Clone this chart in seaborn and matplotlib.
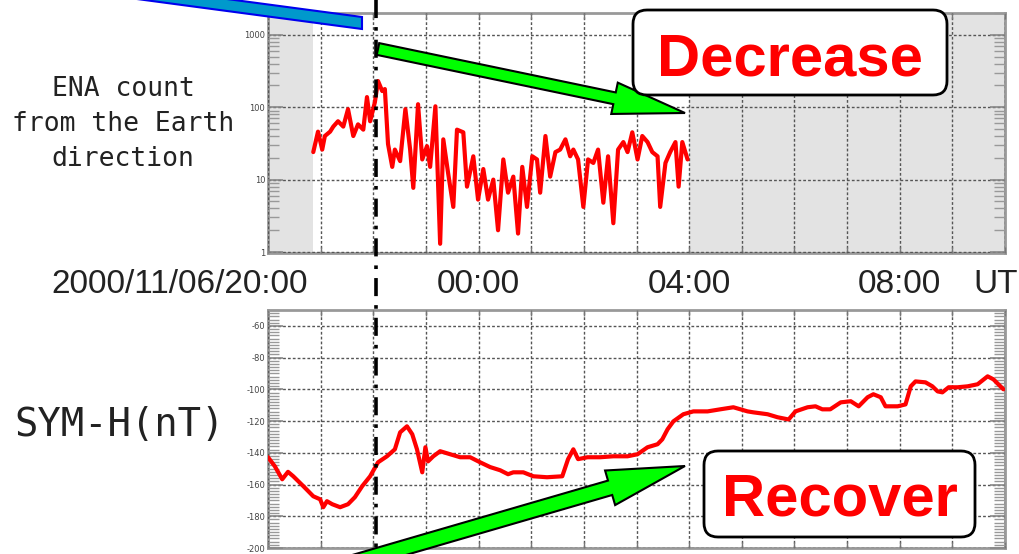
import numpy as np
import pandas as pd
import seaborn as sns
import matplotlib.pyplot as plt
import matplotlib.dates as mdates
from matplotlib.ticker import FixedLocator, MultipleLocator, LogLocator, NullFormatter
from matplotlib.patches import FancyArrow, FancyBboxPatch, Polygon

# ENA count from the Earth direction (hours after 2000/11/06 20:00 UT)
ena_hours = [0.86, 0.95, 1.03, 1.08, 1.18, 1.24, 1.33, 1.43, 1.52, 1.62,
             1.71, 1.81, 1.88, 1.94, 2.03, 2.09, 2.17, 2.22, 2.28, 2.36,
             2.41, 2.51, 2.61, 2.70, 2.76, 2.85, 2.93, 3.02, 3.08, 3.18,
             3.27, 3.33, 3.42, 3.52, 3.59, 3.71, 3.78, 3.90, 3.99, 4.09,
             4.18, 4.28, 4.37, 4.47, 4.56, 4.66, 4.75, 4.83, 4.92, 5.02,
             5.11, 5.17, 5.27, 5.36, 5.46, 5.55, 5.65, 5.74, 5.80, 5.89,
             5.99, 6.08, 6.18, 6.27, 6.37, 6.46, 6.56, 6.65, 6.75, 6.83,
             6.92, 7.02, 7.11, 7.21, 7.30, 7.40, 7.45, 7.55, 7.64, 7.74,
             7.80, 7.87, 7.97]
ena_counts = [24, 46, 26, 40, 46, 54, 64, 54, 94, 40,
              58, 49, 138, 64, 117, 230, 167, 178, 31, 15,
              26, 18, 94, 26, 7.7, 110, 19, 29, 15, 103,
              1.3, 36, 12.5, 4.2, 49, 45, 8, 21, 5.3, 14,
              5.3, 10, 2.0, 19, 6.6, 11, 1.8, 15, 4.2, 21,
              19, 6.6, 40, 11, 24, 26, 36, 21, 26, 19,
              4.2, 19, 17, 26, 4.8, 21, 2.5, 26, 33, 24,
              45, 19, 40, 33, 24, 21, 4.2, 17, 24, 33,
              8, 33, 19]

# SYM-H index (nT)
symh_hours = [0.00, 0.13, 0.27, 0.38, 0.48, 0.67, 0.86, 0.99, 1.05, 1.12,
              1.22, 1.37, 1.52, 1.65, 1.79, 1.94, 2.09, 2.26, 2.41, 2.51,
              2.64, 2.74, 2.83, 2.93, 2.99, 3.04, 3.14, 3.27, 3.46, 3.65,
              3.84, 4.03, 4.22, 4.41, 4.56, 4.66, 4.85, 5.04, 5.30, 5.59,
              5.70, 5.80, 5.89, 6.07, 6.31, 6.56, 6.83, 7.02, 7.21, 7.40,
              7.49, 7.59, 7.70, 7.89, 8.08, 8.35, 8.59, 8.84, 9.11, 9.22,
              9.49, 9.68, 9.89, 10.02, 10.25, 10.40, 10.53, 10.68, 10.88, 11.07,
              11.22, 11.39, 11.50, 11.64, 11.73, 11.96, 12.11, 12.21, 12.30, 12.49,
              12.62, 12.72, 12.81, 12.93, 13.10, 13.29, 13.48, 13.67, 13.78, 13.97]
symh_nt = [-142.8, -148.5, -156.7, -152.0, -154.8, -161.0, -167.4, -169.3, -174.3, -170.5,
           -172.4, -174.3, -172.4, -168.0, -161.0, -154.8, -146.0, -142.2, -137.8, -127.1,
           -123.3, -128.3, -137.8, -152.3, -136.5, -145.4, -142.2, -139.0, -140.9, -142.8,
           -142.8, -146.0, -149.0, -151.0, -153.5, -152.3, -152.3, -154.8, -155.4, -154.8,
           -144.0, -137.8, -144.0, -142.8, -142.8, -142.2, -142.2, -140.9, -136.5, -134.6,
           -131.5, -125.2, -120.2, -115.7, -113.9, -113.9, -112.6, -111.3, -113.9, -114.5,
           -115.7, -117.6, -119.0, -113.9, -111.3, -110.7, -112.6, -112.6, -108.2, -107.5,
           -110.7, -105.0, -103.1, -105.0, -110.7, -110.7, -109.5, -98.1, -95.0, -95.6,
           -98.1, -101.3, -101.9, -98.7, -98.7, -98.1, -96.8, -91.8, -93.7, -100.0]

event_hour = 2.05          # dash-dot marker (~22:03 UT)
no_data = [(0.0, 0.86), (8.0, 14.0)]   # grey (no ENA data)
time_labels = ["2000/11/06/20:00", "00:00", "04:00", "08:00", "UT"]
label_hours = [0, 4, 8, 12, 14]
ena_ticks = [1, 10, 100, 1000]
symh_ticks = [-200, -180, -160, -140, -120, -100, -80, -60]

start = pd.Timestamp("2000-11-06 20:00")
def to_time(h):
    return start + pd.to_timedelta(np.asarray(h, dtype=float), unit="h")

ena = pd.DataFrame({"time": to_time(ena_hours), "count": ena_counts})
symh = pd.DataFrame({"time": to_time(symh_hours), "symh": symh_nt})

sns.set_style("ticks")
plt.rcParams["font.family"] = ["DejaVu Sans"]

W, H = 1019, 554
fig = plt.figure(figsize=(W / 100, H / 100), dpi=100)
ax1 = fig.add_axes([268 / W, 1 - 253 / H, 737 / W, 240 / H])
ax2 = fig.add_axes([268 / W, 1 - 548 / H, 737 / W, 238 / H])

x0, x1 = to_time(0.0), to_time(14.0)
grid_kw = dict(color="#555555", lw=1.0, ls=(0, (2, 1.5)))

for a0, b0 in no_data:
    ax1.axvspan(to_time(a0), to_time(b0), color="#e3e3e3", lw=0, zorder=0)

sns.lineplot(data=ena, x="time", y="count", ax=ax1, color="#ff0000", lw=3,
             estimator=None, sort=False, zorder=3)
ax1.set_yscale("log")
ax1.set_ylim(0.97, 2000)
ax1.yaxis.set_major_locator(FixedLocator(ena_ticks))
ax1.yaxis.set_minor_locator(LogLocator(base=10, subs=np.arange(2, 10)))
ax1.yaxis.set_minor_formatter(NullFormatter())
ax1.set_yticklabels([str(t) for t in ena_ticks])

sns.lineplot(data=symh, x="time", y="symh", ax=ax2, color="#ff0000", lw=3,
             estimator=None, sort=False, zorder=3)
ax2.set_ylim(-200, -50)
ax2.yaxis.set_major_locator(FixedLocator(symh_ticks))
ax2.yaxis.set_minor_locator(MultipleLocator(2))
ax2.set_yticklabels([str(t) for t in symh_ticks])

for ax in (ax1, ax2):
    ax.set_xlim(x0, x1)
    ax.xaxis.set_major_locator(mdates.HourLocator())
    ax.set_xticklabels([])
    ax.set_xlabel("")
    ax.set_ylabel("")
    ax.grid(True, which="major", **grid_kw)
    ax.set_axisbelow(False)
    for sp in ax.spines.values():
        sp.set_visible(True)
        sp.set_color("#999999")
        sp.set_linewidth(2)
    ax.tick_params(axis="x", which="major", direction="in", length=4, width=1,
                   color="#777777", top=True, bottom=True)
    ax.tick_params(axis="y", which="major", direction="in", length=11, width=1.2,
                   color="#888888", left=True, right=True, labelsize=6,
                   labelcolor="#444444", pad=2)
    ax.tick_params(axis="y", which="minor", direction="in", length=8, width=1,
                   color="#999999", left=True, right=True)

# time labels between the panels
time_font = dict(fontsize=24, color="#222222", va="baseline",
                 family=["Liberation Sans", "DejaVu Sans"])
for lab, h in zip(time_labels, label_hours):
    xt = mdates.date2num(to_time(h))
    if lab.startswith("2000"):
        dx, ha = 29, "right"
    elif lab == "UT":
        dx, ha = 9, "right"
    else:
        dx, ha = 0, "center"
    ax1.annotate(lab, xy=(xt, -0.167), xycoords=ax1.get_xaxis_transform(),
                 xytext=(dx, 0), textcoords="offset points", ha=ha,
                 annotation_clip=False, **time_font)

# left labels
fig.text(123 / W, 1 - 124 / H, "ENA count\nfrom the Earth\ndirection", ha="center",
         va="center", fontsize=19, color="#222222", linespacing=1.45,
         family=["DejaVu Sans Mono"])
fig.text(120 / W, 1 - 425 / H, "SYM-H(nT)", ha="center", va="center", fontsize=28,
         color="#222222", family=["DejaVu Sans Mono"])

# overlay in pixel coordinates for the annotations
ov = fig.add_axes([0, 0, 1, 1], zorder=10)
ov.set_xlim(0, W)
ov.set_ylim(H, 0)
ov.axis("off")
ov.patch.set_alpha(0)

ex = ax1.transData.transform((mdates.date2num(to_time(event_hour)), 1.0))[0]
ov.plot([ex, ex], [0, H], color="black", lw=2.6, ls=(0, (5, 2.5, 1, 2.5)))

# blue bar coming from the top left
ov.add_patch(Polygon([(122, -15), (362, 17), (362, 29), (122, -3)], closed=True,
                     facecolor="#0099cc", edgecolor="#0000ee", lw=1.5))

# green arrows
ov.add_patch(FancyArrow(378, 49, 685 - 378, 113 - 49, width=12, head_width=32,
                        head_length=72, length_includes_head=True,
                        facecolor="#00ff00", edgecolor="black", lw=1.5))
ov.add_patch(FancyArrow(355, 562, 685 - 355, 466 - 562, width=15, head_width=36,
                        head_length=78, length_includes_head=True,
                        facecolor="#00ff00", edgecolor="black", lw=1.5))

# callout boxes
for (bx, by, bw, bh), txt, base in [((633, 10, 314, 85), "Decrease", 75),
                                    ((704, 451, 271, 86), "Recover", 515)]:
    ov.add_patch(FancyBboxPatch((bx, by), bw, bh,
                                boxstyle="round,pad=0,rounding_size=14",
                                facecolor="white", edgecolor="black", lw=2))
    ov.text(bx + bw / 2, base, txt, ha="center", va="baseline", fontsize=43,
            fontweight="bold", color="#ff0000", family=["Liberation Sans", "DejaVu Sans"])

fig.savefig("out.png", dpi=100)
